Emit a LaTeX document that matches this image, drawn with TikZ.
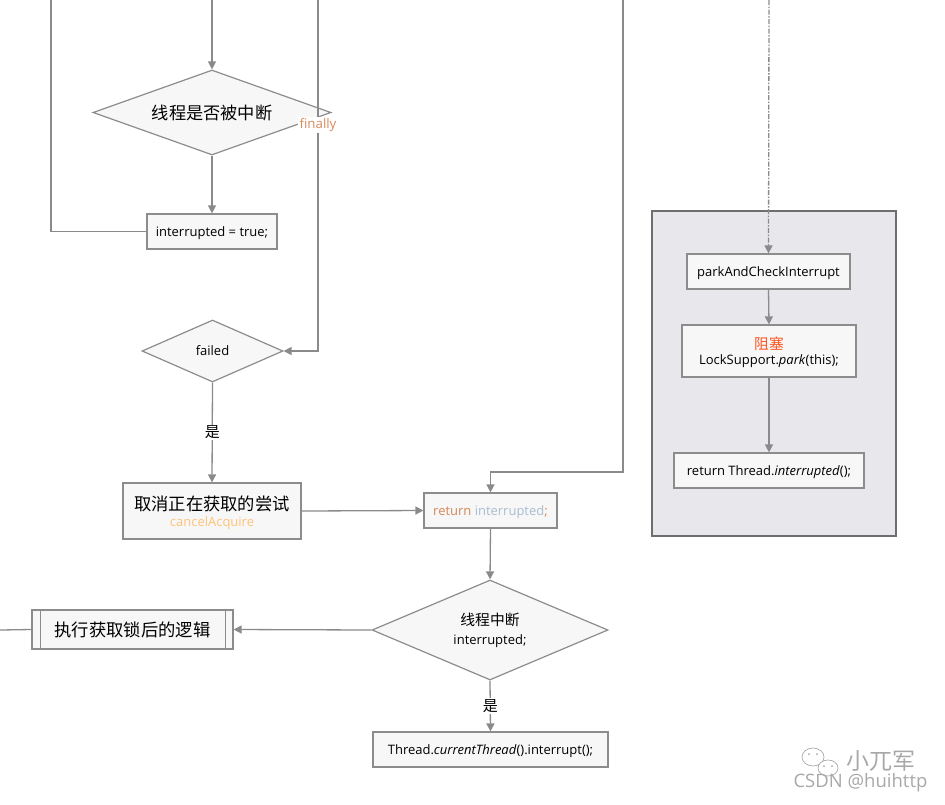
\documentclass[tikz,border=0pt]{standalone}
\usepackage{fontspec}
\setmainfont{Open Sans}
\newfontfamily\cjk{Noto Sans CJK SC}
\usetikzlibrary{shapes.geometric,arrows.meta}
\definecolor{ln}{HTML}{8A8A8A}
\definecolor{bd}{HTML}{8C8C8C}
\definecolor{nf}{HTML}{F7F7F7}
\definecolor{grpf}{HTML}{E7E7EC}
\definecolor{grpd}{HTML}{6E6E6E}
\definecolor{fin}{HTML}{D98A5E}
\definecolor{canc}{HTML}{FFC27A}
\definecolor{retc}{HTML}{D4875A}
\definecolor{intc}{HTML}{A9BDD0}
\definecolor{blk}{HTML}{FF5522}
\definecolor{wm}{HTML}{A8A8A8}
\begin{document}
\begin{tikzpicture}[x=1pt,y=-1pt,
  conn/.style={draw=ln,line width=1.3pt},
  arr/.style={conn,-{Triangle[length=8pt,width=8pt]}},
  box/.style={draw=bd,fill=nf,line width=1.2pt,rectangle,inner sep=0pt,align=center,text depth=0pt,font=\fontsize{13}{16}\selectfont},
  dia/.style={draw=bd,fill=nf,line width=1.2pt,diamond,inner sep=0pt,align=center,font=\fontsize{13}{16}\selectfont},
  lbl/.style={fill=white,inner sep=1pt,font=\cjk\fontsize{15}{17}\selectfont}
]
\useasboundingbox (0,0) rectangle (945,804);

% group container
\node[draw=grpd,fill=grpf,line width=1.2pt,minimum width=244,minimum height=325,inner sep=0pt] (grp) at (774,373.5) {};

% free ends at top / left
\coordinate (t0) at (51,0);
\coordinate (t1) at (212,0);
\coordinate (t2) at (318,0);
\coordinate (t3) at (623,0);
\coordinate (t4) at (769,0);
\coordinate (c3) at (623,472);
\coordinate (l0) at (0,630);

% nodes
\node[dia,aspect=2.8,minimum width=238,minimum height=85] (d1) at (212,112.5) {\cjk\fontsize{17.2}{20}\selectfont 线程是否被中断};
\node[box,minimum width=130,minimum height=35] (int) at (212,231.5) {interrupted = true;};
\node[dia,aspect=2.27,minimum width=141,minimum height=62] (fail) at (212.5,351) {failed};
\node[box,minimum width=178,minimum height=56] (canc) at (212,511) {{\cjk\fontsize{17.3}{20}\selectfont 取消正在获取的尝试}\\[0pt]\textcolor{canc}{cancelAcquire}};
\node[box,minimum width=133,minimum height=35] (ret) at (490.5,510.5) {\textcolor{retc}{return} \textcolor{intc}{interrupted}\textcolor{retc}{;}};
\node[dia,aspect=2.36,minimum width=236,minimum height=100] (d3) at (490,630) {{\cjk\fontsize{14.8}{17}\selectfont 线程中断}\\[3pt]interrupted;};
\node[box,minimum width=201,minimum height=39] (ex) at (132.5,629.5) {\cjk\fontsize{17.3}{20}\selectfont 执行获取锁后的逻辑};
\node[box,minimum width=235,minimum height=35] (th) at (490.5,749.5) {Thread.\textit{currentThread}().interrupt();};
\node[box,minimum width=163,minimum height=35] (park) at (768.5,271.5) {parkAndCheckInterrupt};
\node[box,minimum width=174,minimum height=52] (lock) at (769,351) {\textcolor{blk}{\cjk\fontsize{14.8}{17}\selectfont 阻塞}\\[-1pt]LockSupport.\textit{park}(this);};
\node[box,minimum width=190,minimum height=35] (rth) at (769,470.5) {return Thread.\textit{interrupted}();};

% predefined process inner bars
\draw[draw=bd,line width=1.2pt] ([xshift=9pt]ex.north west) -- ([xshift=9pt]ex.south west);
\draw[draw=bd,line width=1.2pt] ([xshift=-8pt]ex.north east) -- ([xshift=-8pt]ex.south east);

% connectors
\draw[arr] (t1) -- (d1.north);
\draw[arr] (d1.south) -- (int.north);
\draw[conn] (int.west) -| (t0);
\draw[arr] (t2) |- (fail.east);
\node[fill=white,inner sep=1.5pt,text=fin,font=\fontsize{13.3}{15}\selectfont] (finl) at (318,125) {finally};
\draw[arr] (fail.south) -- node[lbl] (y1) {是} (canc.north);
\draw[arr] (canc.east) -- (ret.west);
\draw[arr] (t3) -- (c3) -| (ret.north);
\draw[arr] (ret.south) -- (d3.north);
\draw[arr] (d3.west) -- (ex.east);
\draw[conn] (ex.west) -- (l0);
\draw[arr] (d3.south) -- node[lbl] (y2) {是} (th.north);
\draw[arr,dash pattern=on 5pt off 1.5pt on 1.5pt off 1.5pt] (t4) -- (park.north);
\draw[arr] (park.south) -- (lock.north);
\draw[arr] (lock.south) -- (rth.north);

% watermark
\begin{scope}[draw=wm,line width=0.7pt]
\draw (813,757) ellipse (11 and 9);
\draw[fill=white] (828,768) ellipse (10 and 8);
\fill[wm] (809,754) circle (1);
\fill[wm] (817,754) circle (1);
\fill[wm] (824,766) circle (1);
\fill[wm] (832,766) circle (1);
\end{scope}
\node[text=wm,font=\cjk\fontsize{23}{25}\selectfont,anchor=west] (wm1) at (843,761) {小兀军};
\node[text=wm,font=\fontsize{18.5}{20}\selectfont,anchor=west] (wm2) at (790,783) {CSDN @huihttp};
\end{tikzpicture}
\end{document}
